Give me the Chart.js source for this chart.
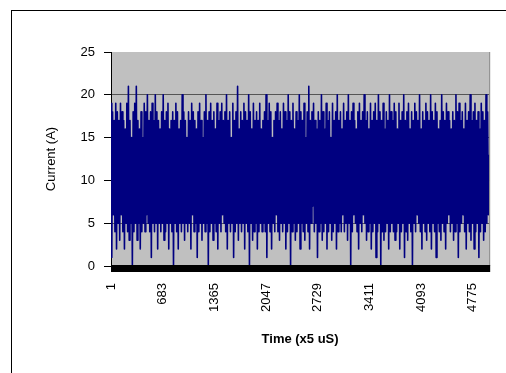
<!DOCTYPE html>
<html>
<head>
<meta charset="utf-8">
<script src="https://cdn.jsdelivr.net/npm/chart.js@4/dist/chart.umd.min.js"></script>
<style>
  body { margin: 0; background: #fff; overflow: hidden; }
  .frame { position: absolute; left: 11px; top: 10px; width: 600px; height: 500px; border: 1px solid #000; }
  .wrap { position: absolute; left: 0; top: 0; width: 506px; height: 373px; }
</style>
</head>
<body>
<div class="frame"></div>
<div class="wrap"><canvas id="current"></canvas></div>
<script>
// tick labels op de tijd-as (samples)
const timeTicks = [1, 683, 1365, 2047, 2729, 3411, 4093, 4775];
const sampleCount = 4990;

const current = [
  19,1, 18,6, 17,4, 19,2, 18,5, 17,3, 19,6, 18,4, 17,2, 16,5, 19,4, 21,3,
  17,5, 15,0, 18,4, 19,5, 21,3, 17,5, 16,2, 18,4, 15,5, 19,4, 18,6, 20,5,
  17,4, 18,1, 19,5, 17,4, 20,5, 18,2, 17,5, 16,4, 18,5, 20,3, 17,4, 18,5,
  19,2, 16,5, 17,4, 18,0, 17,5, 19,4, 18,2, 16,5, 17,4, 20,5, 18,3, 17,5,
  15,4, 18,5, 17,2, 19,6, 18,4, 17,5, 16,1, 18,4, 19,5, 17,3, 15,5, 18,4,
  20,5, 17,0, 18,4, 19,5, 17,3, 18,5, 16,4, 19,2, 17,5, 18,4, 19,6, 17,5,
  18,4, 20,2, 17,5, 18,4, 15,5, 19,1, 17,4, 18,5, 21,3, 16,5, 18,4, 17,5,
  19,2, 18,5, 17,4, 20,0, 18,5, 16,3, 19,4, 17,5, 18,2, 17,4, 19,5, 16,4,
  17,5, 18,4, 20,1, 17,5, 19,4, 18,2, 15,5, 17,4, 18,6, 19,4, 17,3, 18,5,
  16,4, 19,5, 18,2, 17,4, 20,5, 18,0, 17,4, 19,5, 16,3, 18,4, 17,5, 20,2,
  18,5, 17,4, 19,3, 15,5, 18,4, 21,2, 17,5, 18,7, 19,4, 17,5, 16,1, 18,4,
  17,5, 20,3, 18,4, 16,5, 19,2, 17,4, 18,5, 15,3, 19,4, 17,5, 18,2, 20,4,
  17,5, 18,4, 16,6, 19,4, 17,5, 18,3, 20,5, 17,0, 18,4, 19,6, 17,5, 16,4,
  18,2, 19,5, 17,4, 18,6, 20,5, 17,3, 18,4, 16,5, 19,2, 17,4, 18,5, 19,1,
  17,4, 20,5, 18,0, 17,4, 19,3, 16,4, 18,5, 17,2, 20,4, 18,5, 17,4, 19,3,
  18,4, 16,5, 19,2, 17,4, 18,5, 20,1, 17,4, 18,3, 19,5, 16,4, 18,0, 17,5,
  19,4, 18,6, 17,5, 20,4, 16,2, 18,5, 17,4, 19,3, 18,5, 17,4, 20,2, 18,5,
  17,4, 19,1, 18,5, 16,4, 17,3, 20,5, 18,4, 17,2, 19,5, 18,6, 17,4, 16,5,
  18,3, 17,4, 20,5, 18,1, 19,4, 17,5, 18,6, 16,4, 19,2, 17,5, 18,4, 20,3,
  17,5, 18,2, 19,4, 17,5, 18,1, 16,4, 19,5, 18,3, 17,4, 20,5, 18,6, 13
];

const step = (sampleCount - 1) / (current.length - 1);
const points = current.map((v, i) => ({ x: 1 + i * step, y: v }));

// grijze plot-achtergrond, rechterrand en zwarte band onder de as
const plotArea = {
  id: "plotArea",
  beforeDraw(chart) {
    const { ctx, chartArea: a } = chart;
    ctx.save();
    ctx.fillStyle = "#c0c0c0";
    ctx.fillRect(a.left, a.top, a.right - a.left, a.bottom - a.top);
    ctx.restore();
  },
  afterDraw(chart) {
    const { ctx, chartArea: a } = chart;
    ctx.save();
    ctx.strokeStyle = "#808080";
    ctx.lineWidth = 1;
    ctx.beginPath();
    ctx.moveTo(a.right + 0.5, a.top);
    ctx.lineTo(a.right + 0.5, a.bottom);
    ctx.stroke();
    ctx.fillStyle = "#000";
    ctx.fillRect(a.left, a.bottom - 1, a.right - a.left + 1, 7);
    ctx.restore();
  }
};

const font = { family: "Arial, 'Liberation Sans', sans-serif", size: 13 };

new Chart(document.getElementById("current"), {
  type: "line",
  data: {
    datasets: [
      {
        label: "Current",
        data: points,
        borderColor: "#000080",
        borderWidth: 1.6,
        borderJoinStyle: "round",
        pointRadius: 0,
        tension: 0
      }
    ]
  },
  options: {
    responsive: true,
    maintainAspectRatio: false,
    animation: false,
    events: [],
    layout: { padding: { left: 40, right: 12, top: 52, bottom: 22 } },
    plugins: { legend: { display: false }, tooltip: { enabled: false } },
    scales: {
      x: {
        type: "linear",
        min: 1,
        max: sampleCount,
        afterBuildTicks: (axis) => { axis.ticks = timeTicks.map((v) => ({ value: v })); },
        afterFit: (axis) => { axis.height = 85; },
        grid: { display: false, drawTicks: false },
        border: { display: false },
        ticks: {
          autoSkip: false,
          minRotation: 90,
          maxRotation: 90,
          padding: 17,
          color: "#000",
          font: font,
          callback: (v) => String(v)
        },
        title: {
          display: true,
          text: "Time (x5 uS)",
          color: "#000",
          font: { ...font, weight: "bold" }
        }
      },
      y: {
        min: 0,
        max: 25,
        afterFit: (axis) => { axis.width = 71; },
        ticks: { stepSize: 5, padding: 9, color: "#000", font: font },
        grid: {
          color: (c) => (c.tick && c.tick.value === 25 ? "rgba(0,0,0,0)" : "#555"),
          tickColor: "#000",
          tickLength: 7
        },
        border: { color: "#000", width: 1 },
        title: {
          display: true,
          text: "Current (A)",
          color: "#000",
          font: font
        }
      }
    }
  },
  plugins: [plotArea]
});
</script>
</body>
</html>
